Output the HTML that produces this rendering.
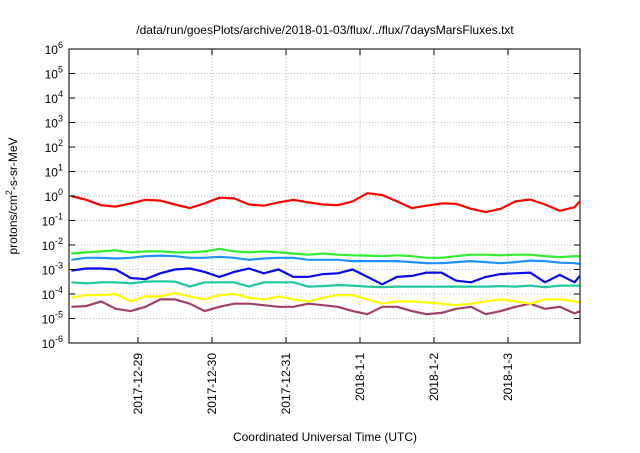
<!DOCTYPE html>
<html><head><meta charset="utf-8"><style>
body{margin:0;background:#fff}
svg text{font-family:"Liberation Sans",sans-serif;fill:#000}
</style></head><body>
<svg id="c" width="640" height="448" viewBox="0 0 640 448">
<text x="325" y="34" font-size="12" text-anchor="middle">/data/run/goesPlots/archive/2018-01-03/flux/../flux/7daysMarsFluxes.txt</text>
<text transform="translate(17,196) rotate(-90)" font-size="12" text-anchor="middle">protons/cm<tspan font-size="9" dy="-5">2</tspan><tspan dy="5">-s-sr-MeV</tspan></text>
<text x="325" y="441" font-size="12" text-anchor="middle">Coordinated Universal Time (UTC)</text>
<g id="grid"></g><g id="series"></g><g id="axes"></g>
</svg>
<script>
const xTickLabels=["2017-12-29","2017-12-30","2017-12-31","2018-1-1","2018-1-2","2018-1-3"];
const xTickDays=[1,2,3,4,5,6];
const yTickExps=[-6,-5,-4,-3,-2,-1,0,1,2,3,4,5,6];
const times=[0.1,0.3,0.5,0.7,0.9,1.1,1.3,1.5,1.7,1.9,2.1,2.3,2.5,2.7,2.9,3.1,3.3,3.5,3.7,3.9,4.1,4.3,4.5,4.7,4.9,5.1,5.3,5.5,5.7,5.9,6.1,6.3,6.5,6.7,6.9,6.97];
const red=[1.0,0.7,0.42,0.37,0.5,0.7,0.65,0.45,0.32,0.5,0.85,0.8,0.45,0.4,0.55,0.7,0.55,0.45,0.42,0.6,1.3,1.1,0.6,0.32,0.4,0.5,0.48,0.3,0.22,0.3,0.6,0.72,0.45,0.25,0.35,0.6];
const green=[4.5e-3,5e-3,5.5e-3,6e-3,5e-3,5.5e-3,5.5e-3,5e-3,5e-3,5.5e-3,7e-3,5.5e-3,5e-3,5.5e-3,5e-3,4.5e-3,4e-3,4.5e-3,4e-3,3.8e-3,3.7e-3,3.5e-3,3.8e-3,3.5e-3,3e-3,3e-3,3.5e-3,4e-3,4e-3,3.8e-3,4e-3,4e-3,3.5e-3,3.2e-3,3.5e-3,3.5e-3];
const lightBlue=[2.5e-3,3e-3,3e-3,2.8e-3,3e-3,3.5e-3,3.7e-3,3.5e-3,3e-3,3e-3,3.3e-3,3e-3,2.5e-3,2.8e-3,3e-3,3e-3,2.5e-3,2.5e-3,2.5e-3,2.2e-3,2.2e-3,2.2e-3,2.2e-3,2e-3,1.8e-3,1.8e-3,2e-3,2.2e-3,2e-3,1.8e-3,2e-3,2.3e-3,2.2e-3,1.9e-3,1.8e-3,1.7e-3];
const blue=[9e-4,1.1e-3,1.1e-3,1e-3,4.5e-4,4e-4,7e-4,1e-3,1.1e-3,8e-4,5e-4,8e-4,1.1e-3,7e-4,1e-3,5e-4,5e-4,6.5e-4,7e-4,1e-3,5e-4,2.5e-4,5e-4,5.5e-4,7.5e-4,7.5e-4,3.5e-4,3e-4,5e-4,6.5e-4,7e-4,7.5e-4,3e-4,6e-4,3e-4,5.5e-4];
const teal=[3e-4,2.7e-4,3e-4,3e-4,2.7e-4,3.2e-4,3.3e-4,3.2e-4,2e-4,3e-4,3e-4,3e-4,2e-4,3e-4,3e-4,3e-4,2e-4,2.1e-4,2.3e-4,2.2e-4,2e-4,1.9e-4,2e-4,2e-4,2e-4,2e-4,2e-4,2e-4,2e-4,2.1e-4,2e-4,2.2e-4,1.9e-4,2.2e-4,2.2e-4,2.2e-4];
const yellow=[7e-5,9e-5,9e-5,1e-4,5e-5,8e-5,8e-5,1.1e-4,8e-5,6e-5,9e-5,1e-4,7e-5,6e-5,8e-5,6e-5,5e-5,7e-5,9e-5,9e-5,6e-5,4e-5,5e-5,5e-5,4.5e-5,4e-5,3.5e-5,4e-5,5e-5,6e-5,5e-5,4e-5,6e-5,6e-5,5e-5,4.5e-5];
const purple=[3e-5,3.2e-5,5e-5,2.5e-5,2e-5,3e-5,6e-5,6e-5,4e-5,2e-5,3e-5,4e-5,4e-5,3.5e-5,3e-5,3e-5,4e-5,3.5e-5,3e-5,2e-5,1.5e-5,3e-5,3e-5,2e-5,1.5e-5,1.7e-5,2.5e-5,3e-5,1.5e-5,2e-5,3e-5,4e-5,2.5e-5,3e-5,1.6e-5,2e-5];

const L=69,R=580,T=49,B=343,NS="http://www.w3.org/2000/svg";
const xS=d=>138+(d-1)*74;
const yS=v=>B-(Math.log10(v)+6)/12*(B-T);
function mk(tag,attrs,parent){const e=document.createElementNS(NS,tag);for(const k in attrs)e.setAttribute(k,attrs[k]);parent.appendChild(e);return e;}
const grid=document.getElementById('grid'),axes=document.getElementById('axes'),ser=document.getElementById('series');
yTickExps.forEach(p=>{
  const y=yS(Math.pow(10,p));
  if(p>-6&&p<6){const g=mk('line',{x1:L,x2:R,y1:y,y2:y,stroke:'#bbb','stroke-dasharray':'1,2'},grid);
  
  }
  const t1=mk('line',{x1:L,x2:L+6,y1:y,y2:y,stroke:'#000'},axes);
  
  
  mk('line',{x1:R-6,x2:R,y1:y,y2:y,stroke:'#000'},axes);
  const tx=mk('text',{x:L-6,y:y+5,'font-size':'12','text-anchor':'end'},axes);
  
  
  tx.innerHTML='10<tspan font-size="9" dy="-6">'+p+'</tspan>';
});
xTickDays.forEach((d,i)=>{
  const x=xS(d);
  const g=mk('line',{x1:x,x2:x,y1:T,y2:B,stroke:'#bbb','stroke-dasharray':'1,2'},grid);
  
  
  mk('line',{x1:x,x2:x,y1:B,y2:B-6,stroke:'#000'},axes);
  mk('line',{x1:x,x2:x,y1:T,y2:T+6,stroke:'#000'},axes);
  const tx=mk('text',{transform:`translate(${x+4},${B+10}) rotate(-90)`,'font-size':'12','text-anchor':'end'},axes);
  
  
  tx.textContent=xTickLabels[i];
});
const fr=mk('rect',{x:L,y:T,width:R-L,height:B-T,fill:'none',stroke:'#333','stroke-width':'1.3'},axes);


const seriesList=[['purple-series',purple,'#a0406a'],['yellow-series',yellow,'#ffff00'],['teal-series',teal,'#20c8a0'],['blue-series',blue,'#0a0aee'],['light-blue-series',lightBlue,'#2090ff'],['green-series',green,'#30ee30'],['red-series',red,'#ff0000']];
seriesList.forEach(([n,vals,col])=>{
  const pts=vals.map((v,i)=>xS(times[i]).toFixed(1)+','+yS(v).toFixed(1)).join(' ');
  const p=mk('polyline',{points:pts,fill:'none',stroke:col,'stroke-width':'2.2','stroke-linejoin':'round'},ser);
  
  
});
</script>
</body></html>
